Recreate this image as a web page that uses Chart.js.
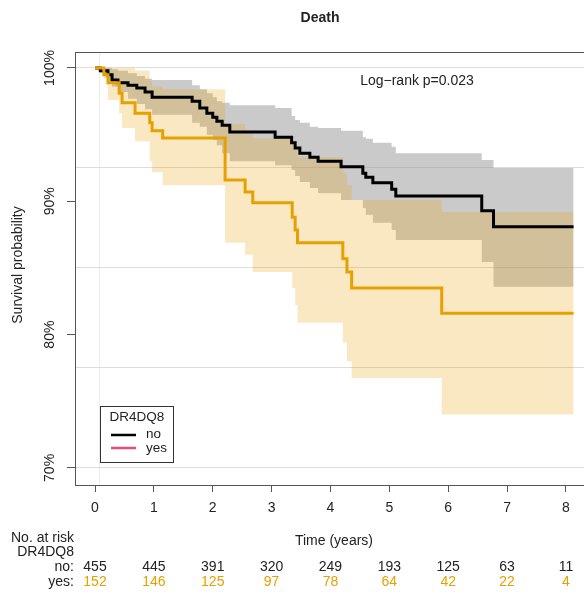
<!DOCTYPE html>
<html>
<head>
<meta charset="utf-8">
<script src="https://cdn.jsdelivr.net/npm/chart.js@4.4.0/dist/chart.umd.min.js"></script>
<style>
  html, body { margin: 0; padding: 0; background: #fff; overflow: hidden; }
  #wrap { width: 600px; height: 592px; }
</style>
</head>
<body>
<div id="wrap"><canvas id="km" width="600" height="592"></canvas></div>
<script>
// Kaplan-Meier estimates (survival in %, time in years)
const noTime  = [0, 0.09, 0.22, 0.29, 0.39, 0.56, 0.71, 0.85, 0.97, 1.65, 1.78, 1.90, 2.00, 2.07, 2.16, 2.29, 3.06, 3.34, 3.40, 3.48, 3.65, 3.79, 4.18, 4.55, 4.60, 4.72, 5.04, 5.11, 6.57, 6.77, 8.13];
const noSurv  = [100, 99.8, 99.5, 99.1, 98.9, 98.7, 98.5, 98.2, 97.8, 97.5, 97.0, 96.6, 96.3, 96.0, 95.7, 95.2, 94.8, 94.4, 94.0, 93.6, 93.3, 93.0, 92.6, 92.1, 91.8, 91.4, 90.9, 90.4, 89.3, 88.1, 88.1];
const noUpper = [100, 100, 100, 99.9, 99.8, 99.6, 99.4, 99.2, 99.1, 98.7, 98.4, 98.1, 97.8, 97.5, 97.4, 97.2, 97.0, 96.4, 96.1, 95.9, 95.6, 95.5, 95.3, 94.8, 94.7, 94.4, 94.1, 93.6, 93.1, 92.5, 92.5];
const noLower = [100, 99.6, 99.0, 98.6, 98.2, 97.7, 97.3, 96.9, 96.5, 95.9, 95.6, 95.0, 94.6, 94.2, 93.6, 93.0, 92.7, 92.35, 91.9, 91.45, 91.0, 90.6, 90.1, 89.5, 89.0, 88.4, 87.85, 87.1, 85.45, 83.6, 83.6];

const yesTime  = [0, 0.15, 0.22, 0.41, 0.46, 0.68, 0.93, 0.97, 1.15, 2.21, 2.55, 2.68, 3.35, 3.40, 3.44, 4.21, 4.28, 4.36, 5.89, 8.13];
const yesSurv  = [100, 99.5, 98.9, 98.1, 97.4, 96.6, 95.9, 95.3, 94.75, 91.6, 90.7, 89.9, 88.8, 87.85, 86.9, 85.7, 84.7, 83.5, 81.6, 81.6];
const yesUpper = [100, 100, 100, 100, 100, 99.8, 99.0, 98.6, 98.4, 95.8, 95.3, 94.75, 94.2, 93.8, 93.3, 92.1, 91.2, 90.1, 89.2, 89.2];
const yesLower = [100, 99.2, 97.6, 96.6, 95.5, 94.5, 93.0, 92.2, 91.2, 86.9, 86.0, 84.7, 83.5, 82.2, 80.9, 79.4, 78.0, 76.75, 74.0, 74.0];

// axes
const xTicks = [0, 1, 2, 3, 4, 5, 6, 7, 8];
const xGrid = [0.07];
const yLabels = [70, 80, 90, 100];
const yGrid = [70, 77.5, 85, 92.5, 100];

// number at risk table
const riskTimes = [0, 1, 2, 3, 4, 5, 6, 7, 8];
const riskNo  = [455, 445, 391, 320, 249, 193, 125, 63, 11];
const riskYes = [152, 146, 125, 97, 78, 64, 42, 22, 4];

const ORANGE = '#e6a000';
const FONT = '"Liberation Sans", Arial, sans-serif';
Chart.defaults.font.family = FONT;

function pts(t, v) {
    return t.map((x, i) => ({ x: x, y: v[i] }));
}

const extras = {
    id: 'extras',
    afterDraw(chart) {
        const ctx = chart.ctx;
        const xs = chart.scales.x;
        const ys = chart.scales.y;
        const a = chart.chartArea;
        ctx.save();

        // plot box
        ctx.strokeStyle = '#555';
        ctx.lineWidth = 1;
        ctx.strokeRect(a.left + 0.5, a.top + 0.5, a.right - a.left, a.bottom - a.top);

        ctx.fillStyle = '#222';
        ctx.textBaseline = 'middle';

        // title
        ctx.font = 'bold 14px ' + FONT;
        ctx.textAlign = 'center';
        ctx.fillText('Death', 320, 18);

        // p value
        ctx.font = '14px ' + FONT;
        ctx.fillText('Log\u2212rank p=0.023', 417, 81);

        // y tick labels, rotated
        yLabels.forEach(v => {
            ctx.save();
            ctx.translate(50, ys.getPixelForValue(v));
            ctx.rotate(-Math.PI / 2);
            ctx.fillText(v + '%', 0, 0);
            ctx.restore();
        });

        // y title
        ctx.save();
        ctx.translate(18, 265);
        ctx.rotate(-Math.PI / 2);
        ctx.fillText('Survival probability', 0, 0);
        ctx.restore();

        // x title
        ctx.fillText('Time (years)', 334, 541);

        // legend
        ctx.fillStyle = '#fff';
        ctx.fillRect(101, 407, 72, 55);
        ctx.strokeStyle = '#333';
        ctx.strokeRect(100.5, 406.5, 73, 56);
        ctx.fillStyle = '#222';
        ctx.font = '13.5px ' + FONT;
        ctx.textAlign = 'center';
        ctx.fillText('DR4DQ8', 137, 417);
        ctx.textAlign = 'left';
        ctx.lineWidth = 2.5;
        ctx.strokeStyle = '#000';
        ctx.beginPath(); ctx.moveTo(111, 435); ctx.lineTo(136, 435); ctx.stroke();
        ctx.strokeStyle = '#ee4a74';
        ctx.beginPath(); ctx.moveTo(111, 448); ctx.lineTo(136, 448); ctx.stroke();
        ctx.fillText('no', 146, 434);
        ctx.fillText('yes', 146, 448);

        // number at risk
        ctx.font = '14px ' + FONT;
        ctx.textAlign = 'right';
        ctx.fillText('No. at risk', 74, 538);
        ctx.fillText('DR4DQ8', 74, 552);
        ctx.fillText('no:', 74, 567);
        ctx.fillText('yes:', 74, 582);
        ctx.textAlign = 'center';
        riskTimes.forEach((t, i) => {
            const px = xs.getPixelForValue(t);
            ctx.fillStyle = '#222';
            ctx.fillText(String(riskNo[i]), px, 567);
            ctx.fillStyle = ORANGE;
            ctx.fillText(String(riskYes[i]), px, 582);
        });

        ctx.restore();
    }
};

const band = (data, color, target, order) => ({
    data: data,
    stepped: 'before',
    borderWidth: 0,
    borderColor: 'rgba(0,0,0,0)',
    backgroundColor: color,
    pointRadius: 0,
    fill: target,
    order: order
});

new Chart(document.getElementById('km'), {
    type: 'line',
    data: {
        datasets: [
            { label: 'no', data: pts(noTime, noSurv), stepped: 'before', borderColor: '#000', borderWidth: 3, pointRadius: 0, fill: false, order: 1 },
            { label: 'yes', data: pts(yesTime, yesSurv), stepped: 'before', borderColor: ORANGE, borderWidth: 3, pointRadius: 0, fill: false, order: 0 },
            band(pts(noTime, noUpper), 'rgba(150,150,150,0.5)', 3, 3),
            band(pts(noTime, noLower), 'rgba(0,0,0,0)', false, 3),
            band(pts(yesTime, yesUpper), 'rgba(230,159,0,0.24)', 5, 2),
            band(pts(yesTime, yesLower), 'rgba(0,0,0,0)', false, 2)
        ]
    },
    options: {
        responsive: false,
        animation: false,
        layout: { padding: { top: 52, right: 7, left: 0, bottom: 0 } },
        plugins: {
            legend: { display: false },
            tooltip: { enabled: false },
            title: { display: false }
        },
        scales: {
            x: {
                type: 'linear',
                min: -0.34,
                max: 8.46,
                afterBuildTicks: s => { s.ticks = xTicks.concat(xGrid).map(v => ({ value: v })); },
                afterFit: s => { s.height = 107; },
                border: { display: false },
                grid: {
                    color: c => xGrid.includes(c.tick && c.tick.value) ? '#ececec' : 'rgba(0,0,0,0)',
                    tickColor: c => xTicks.includes(c.tick && c.tick.value) ? '#555' : 'rgba(0,0,0,0)',
                    tickLength: 7
                },
                ticks: {
                    autoSkip: false,
                    maxRotation: 0,
                    padding: 8,
                    color: '#222',
                    font: { size: 14 },
                    callback: v => xTicks.includes(v) ? String(v) : ''
                }
            },
            y: {
                type: 'linear',
                min: 68.72,
                max: 101.2,
                afterBuildTicks: s => { s.ticks = yGrid.concat([80, 90]).map(v => ({ value: v })); },
                afterFit: s => { s.width = 75; },
                border: { display: false },
                grid: {
                    color: c => yGrid.includes(c.tick && c.tick.value) ? '#dcdcdc' : 'rgba(0,0,0,0)',
                    tickColor: c => yLabels.includes(c.tick && c.tick.value) ? '#555' : 'rgba(0,0,0,0)',
                    tickLength: 8
                },
                ticks: { display: false }
            }
        }
    },
    plugins: [extras]
});
</script>
</body>
</html>
